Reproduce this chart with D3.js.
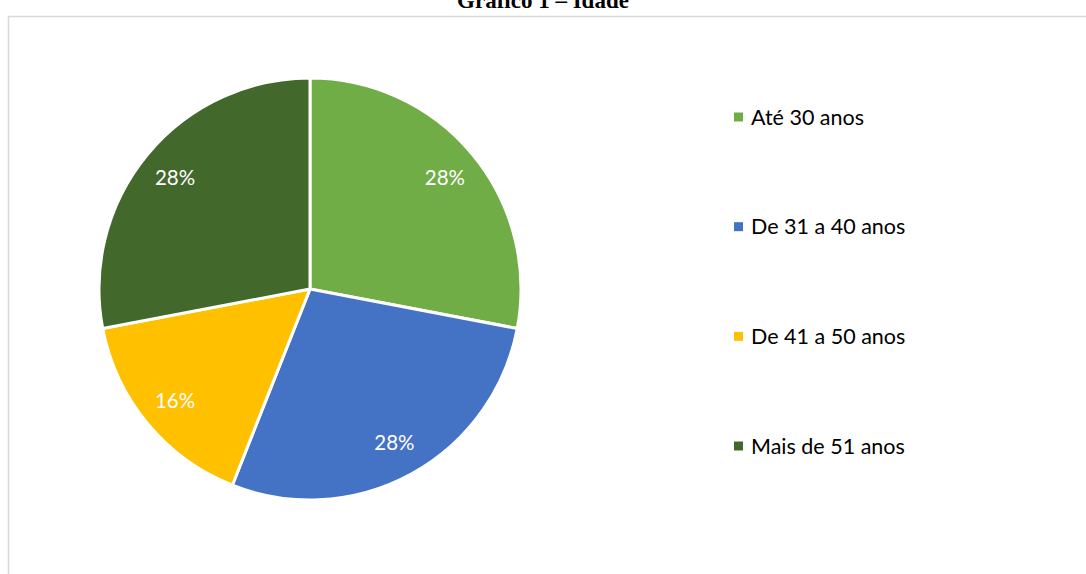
<!DOCTYPE html>
<html><head><meta charset="utf-8">
<script src="https://cdn.jsdelivr.net/npm/d3@7"></script>
<style>body{margin:0;background:#fff;}svg{display:block;}</style>
</head><body>
<svg id="chart" width="1086" height="574"></svg>
<script>
const categories = ["Até 30 anos", "De 31 a 40 anos", "De 41 a 50 anos", "Mais de 51 anos"];
const values = [28, 28, 16, 28];
const colors = ["#70AD47", "#4472C4", "#FFC000", "#43682B"];
const title = "Gráfico 1 – Idade";

const svg = d3.select("#chart");

svg.append("rect").attr("x", 8.5).attr("y", 16.5).attr("width", 1200).attr("height", 700)
  .attr("fill", "#fff").attr("stroke", "#d9d9d9").attr("stroke-width", 1.5);

svg.append("text").attr("x", 543).attr("y", 8).attr("text-anchor", "middle")
  .attr("font-family", "Liberation Serif, Times New Roman, serif").attr("font-weight", "bold")
  .attr("font-size", 23).attr("fill", "#000").text(title);

const cx = 310, cy = 289, R = 211;
const total = d3.sum(values);
const pie = d3.pie().sort(null).value(d => d)(values);
const arc = d3.arc().innerRadius(0).outerRadius(R);
const labelArc = d3.arc().innerRadius(R * 0.83).outerRadius(R * 0.83);

const g = svg.append("g").attr("transform", `translate(${cx},${cy})`);
g.selectAll("path").data(pie).join("path")
  .attr("d", arc).attr("fill", (d, i) => colors[i])
  .attr("stroke", "#fff").attr("stroke-width", 3).attr("stroke-linejoin", "round");

const fmt = d3.format(".0%");
g.selectAll("text.lbl").data(pie).join("text").attr("class", "lbl")
  .attr("transform", d => `translate(${labelArc.centroid(d)})`)
  .attr("text-anchor", "middle").attr("dy", "0.35em")
  .attr("font-family", "Lato, 'Open Sans', sans-serif").attr("font-size", 20.5)
  .attr("fill", "#fff").text(d => fmt(d.value / total));

const legendY = d3.scalePoint().domain(categories).range([117, 446]);
const lg = svg.append("g");
const items = lg.selectAll("g").data(categories).join("g")
  .attr("transform", d => `translate(734,${legendY(d)})`);
items.append("rect").attr("x", 0).attr("y", -4.5).attr("width", 9).attr("height", 9)
  .attr("fill", (d, i) => colors[i]);
items.append("text").attr("x", 17).attr("y", 0).attr("dy", "0.35em")
  .attr("font-family", "Lato, 'Open Sans', sans-serif").attr("font-size", 21.5)
  .attr("fill", "#000").text(d => d);
</script>
</body></html>
